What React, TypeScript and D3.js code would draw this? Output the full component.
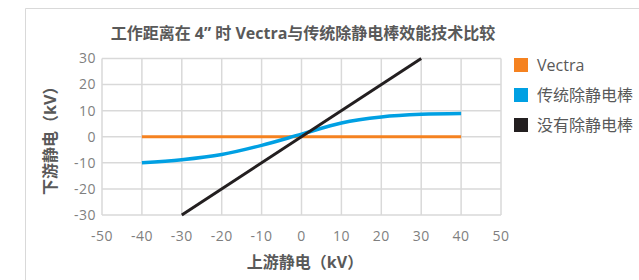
import * as d3 from 'd3'

const xTicks = [-50, -40, -30, -20, -10, 0, 10, 20, 30, 40, 50]
const yTicks = [-30, -20, -10, 0, 10, 20, 30]

const vectraX = [-40, 40]
const vectraY = [0, 0]
const rodX = [-40, -30, -20, -10, 0, 10, 20, 30, 40]
const rodY = [-10, -8.8, -6.8, -3.3, 1, 5.3, 7.6, 8.6, 8.9]
const noneX = [-30, 30]
const noneY = [-30, 30]

const seriesNames = ['Vectra', '传统除静电棒', '没有除静电棒']
const seriesColors = ['#f58220', '#00a0e3', '#231f20']

const FONT = "'Open Sans', 'Noto Sans CJK SC', sans-serif"

export default function App() {
  const width = 639
  const height = 280
  const x = d3.scaleLinear().domain([-50, 50]).range([102, 501])
  const y = d3.scaleLinear().domain([-30, 30]).range([215, 58.5])

  const straight = d3
    .line<[number, number]>()
    .x((d) => x(d[0]))
    .y((d) => y(d[1]))
  const smooth = d3
    .line<[number, number]>()
    .x((d) => x(d[0]))
    .y((d) => y(d[1]))
    .curve(d3.curveMonotoneX)

  const series = [
    { pts: vectraX.map((v, i) => [v, vectraY[i]] as [number, number]), w: 3, curve: false },
    { pts: rodX.map((v, i) => [v, rodY[i]] as [number, number]), w: 3.5, curve: true },
    { pts: noneX.map((v, i) => [v, noneY[i]] as [number, number]), w: 3, curve: false },
  ]

  return (
    <svg width={width} height={height} style={{ position: 'absolute', left: 0, top: 0 }}>
      <rect x={0} y={0} width={width} height={height} fill="#fff" />
      <path d={`M25.5,${height} V8.5 H${width}`} fill="none" stroke="#d9d9d9" strokeWidth={1} />
      <text x={303} y={39} textAnchor="middle" fontFamily={FONT} fontSize={16} fontWeight={700} fill="#595959">
        工作距离在 4” 时 Vectra与传统除静电棒效能技术比较
      </text>
      {xTicks.map((t) => (
        <line key={'gx' + t} x1={x(t)} x2={x(t)} y1={y(-30)} y2={y(30)} stroke="#d9d9d9" strokeWidth={1.5} />
      ))}
      {yTicks.map((t) => (
        <line key={'gy' + t} x1={x(-50)} x2={x(50)} y1={y(t)} y2={y(t)} stroke="#d9d9d9" strokeWidth={1.5} />
      ))}
      {yTicks.map((t) => (
        <text key={'ty' + t} x={96} y={y(t)} dy="0.35em" textAnchor="end" fontFamily={FONT} fontSize={14} letterSpacing={0.5} fill="#7f7f7f">
          {t}
        </text>
      ))}
      {xTicks.map((t) => (
        <text key={'tx' + t} x={x(t)} y={236} dy="0.35em" textAnchor="middle" fontFamily={FONT} fontSize={14} letterSpacing={0.5} fill="#7f7f7f">
          {t}
        </text>
      ))}
      {series.map((s, i) => (
        <path
          key={'s' + i}
          d={(s.curve ? smooth : straight)(s.pts) || ''}
          fill="none"
          stroke={seriesColors[i]}
          strokeWidth={s.w}
        />
      ))}
      <text x={305} y={262} dy="0.35em" textAnchor="middle" fontFamily={FONT} fontSize={16} fontWeight={700} fill="#595959">
        上游静电（kV）
      </text>
      <text
        transform={`translate(50,${y(0)}) rotate(-90)`}
        textAnchor="middle"
        dy="0.35em"
        fontFamily={FONT}
        fontSize={16}
        fontWeight={700}
        fill="#595959"
      >
        下游静电（kV）
      </text>
      {seriesNames.map((n, i) => (
        <g key={'lg' + i} transform={`translate(514,${58 + i * 30})`}>
          <rect x={0} y={0} width={14} height={14} fill={seriesColors[i]} />
          <text x={23} y={7} dy="0.35em" fontFamily={FONT} fontSize={16} fill="#595959">
            {n}
          </text>
        </g>
      ))}
    </svg>
  )
}
